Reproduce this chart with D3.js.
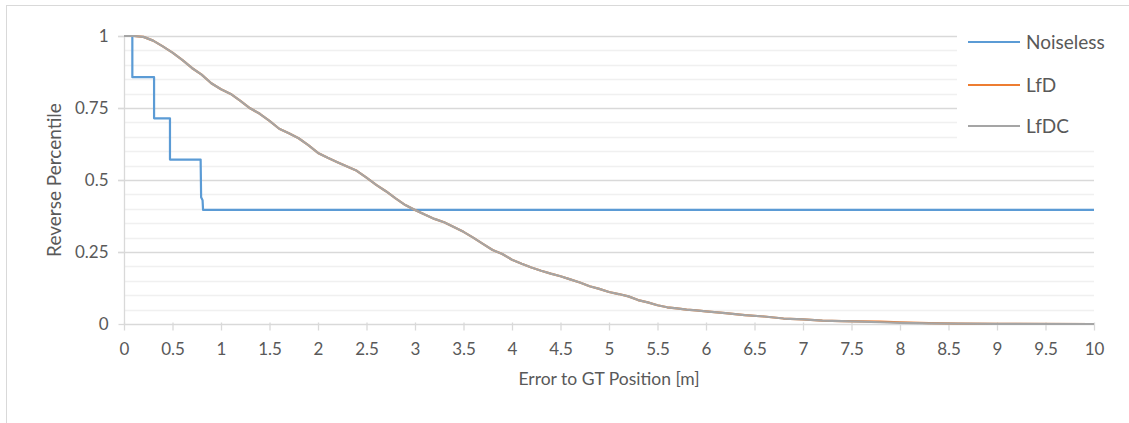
<!DOCTYPE html>
<html>
<head>
<meta charset="utf-8">
<script src="https://cdn.jsdelivr.net/npm/d3@7/dist/d3.min.js"></script>
<style>
  html, body { margin: 0; padding: 0; background: #fff; }
  svg { display: block; font-family: Lato, "Open Sans", sans-serif; }
</style>
</head>
<body>
<svg id="chart" width="1129" height="423"></svg>
<script>
// Series names and colours
const seriesNames = ["Noiseless", "LfD", "LfDC"];
const seriesColors = ["#5b9bd5", "#ed7d31", "#a5a5a5"];

// Noiseless: step curve (error in m, reverse percentile)
const noiselessX = [0, 0.086, 0.086, 0.31, 0.31, 0.474, 0.474, 0.79, 0.795, 0.81, 0.815, 10];
const noiselessY = [1, 1, 0.857, 0.857, 0.714, 0.714, 0.571, 0.571, 0.44, 0.43, 0.396, 0.396];

// LfD / LfDC: sampled along the error axis
const errorX = [0, 0.1, 0.2, 0.3, 0.4, 0.5, 0.6, 0.7, 0.8, 0.9, 1.0, 1.1, 1.2, 1.3, 1.4, 1.5, 1.6, 1.7, 1.8, 1.9,
  2.0, 2.1, 2.2, 2.3, 2.4, 2.5, 2.6, 2.7, 2.8, 2.9, 3.0, 3.1, 3.2, 3.3, 3.4, 3.5, 3.6, 3.7, 3.8, 3.9,
  4.0, 4.1, 4.2, 4.3, 4.4, 4.5, 4.6, 4.7, 4.8, 4.9, 5.0, 5.1, 5.2, 5.3, 5.4, 5.5, 5.6, 5.7, 5.8, 5.9,
  6.0, 6.2, 6.4, 6.6, 6.8, 7.0, 7.2, 7.4, 7.6, 7.8, 8.0, 8.3, 8.6, 9.0, 10];
const lfdcY = [1.0, 1.0, 0.997, 0.984, 0.964, 0.942, 0.917, 0.889, 0.866, 0.836, 0.815, 0.799, 0.775, 0.749, 0.730, 0.705, 0.678, 0.662, 0.645, 0.621,
  0.594, 0.577, 0.562, 0.547, 0.532, 0.508, 0.483, 0.461, 0.436, 0.413, 0.396, 0.380, 0.365, 0.353, 0.337, 0.320, 0.300, 0.278, 0.257, 0.243,
  0.223, 0.209, 0.196, 0.185, 0.175, 0.166, 0.155, 0.144, 0.131, 0.122, 0.111, 0.104, 0.096, 0.083, 0.075, 0.065, 0.058, 0.054, 0.050, 0.047,
  0.044, 0.038, 0.031, 0.026, 0.019, 0.016, 0.012, 0.010, 0.008, 0.006, 0.004, 0.002, 0.001, 0.0005, 0];
const lfdY = [1.0, 1.0, 0.997, 0.984, 0.964, 0.942, 0.917, 0.889, 0.866, 0.836, 0.815, 0.799, 0.775, 0.749, 0.730, 0.705, 0.678, 0.662, 0.645, 0.621,
  0.594, 0.577, 0.562, 0.547, 0.532, 0.508, 0.483, 0.461, 0.436, 0.413, 0.396, 0.380, 0.365, 0.353, 0.337, 0.320, 0.300, 0.278, 0.257, 0.243,
  0.223, 0.209, 0.196, 0.185, 0.175, 0.166, 0.155, 0.144, 0.131, 0.122, 0.111, 0.104, 0.096, 0.083, 0.075, 0.065, 0.058, 0.054, 0.050, 0.047,
  0.044, 0.038, 0.031, 0.026, 0.019, 0.016, 0.012, 0.010, 0.009, 0.008, 0.006, 0.003, 0.001, 0.0005, 0];

// Axis ticks
const xTicks = d3.range(0, 10.001, 0.5).map(v => +v.toFixed(1));
const yTicks = [0, 0.25, 0.5, 0.75, 1];
const yMinorTicks = d3.range(0, 1.0001, 0.05).map(v => +v.toFixed(2));

const axisTitleX = "Error to GT Position [m]";
const axisTitleY = "Reverse Percentile";

const svg = d3.select("#chart");
const W = 1129, H = 423;
const plot = { left: 124, right: 1094, top: 36, bottom: 324 };

const x = d3.scaleLinear().domain([0, 10]).range([plot.left, plot.right]);
const y = d3.scaleLinear().domain([0, 1]).range([plot.bottom, plot.top]);

const textColor = "#595959";

// Chart frame
svg.append("rect")
  .attr("x", 6.5).attr("y", 5.5).attr("width", W + 20).attr("height", H + 20)
  .attr("fill", "#fff").attr("stroke", "#d9d9d9").attr("stroke-width", 1);

// Minor horizontal gridlines
svg.append("g").selectAll("line").data(yMinorTicks.filter(v => !yTicks.some(t => Math.abs(t - v) < 1e-6)))
  .join("line")
  .attr("x1", plot.left).attr("x2", plot.right)
  .attr("y1", d => Math.round(y(d)) + 0.5).attr("y2", d => Math.round(y(d)) + 0.5)
  .attr("stroke", "#f0f0f0").attr("stroke-width", 1.3);

// Major horizontal gridlines
svg.append("g").selectAll("line").data(yTicks.filter(v => v > 0))
  .join("line")
  .attr("x1", plot.left - 6).attr("x2", plot.right)
  .attr("y1", d => Math.round(y(d)) + 0.5).attr("y2", d => Math.round(y(d)) + 0.5)
  .attr("stroke", "#d9d9d9").attr("stroke-width", 1.3);

// Y axis (left) with labels
const yAxis = d3.axisLeft(y).tickValues(yTicks).tickSize(6).tickPadding(10)
  .tickFormat(d => d3.format("")(d));
const gy = svg.append("g").attr("transform", `translate(${plot.left + 0.5},0)`).call(yAxis);
gy.select(".domain").attr("stroke", "#d9d9d9").attr("stroke-width", 1.3).attr("d", `M0,${plot.top}V${plot.bottom}`);
gy.selectAll(".tick line").attr("stroke", "#d9d9d9").attr("stroke-width", 1.3);
gy.selectAll(".tick text").attr("fill", textColor).style("font-size", "17px").style("font-family", "Lato");

// X axis (bottom) with labels
const xAxis = d3.axisBottom(x).tickValues(xTicks).tickSize(6).tickPadding(12)
  .tickFormat(d => d3.format("")(d));
const gx = svg.append("g").attr("transform", `translate(0,${plot.bottom + 0.5})`).call(xAxis);
gx.select(".domain").attr("stroke", "#d9d9d9").attr("stroke-width", 1.3).attr("d", `M${plot.left},0H${plot.right}`);
gx.selectAll(".tick line").attr("stroke", "#d9d9d9").attr("stroke-width", 1.3).attr("y1", -2);
gx.selectAll(".tick text").attr("fill", textColor).style("font-size", "17px").style("font-family", "Lato");

// Series lines
const line = d3.line().x(d => x(d[0])).y(d => y(d[1]));
const noiseless = noiselessX.map((v, i) => [v, noiselessY[i]]);
const lfd = errorX.map((v, i) => [v, lfdY[i]]);
const lfdc = errorX.map((v, i) => [v, lfdcY[i]]);
const series = [noiseless, lfd, lfdc];

svg.append("g").selectAll("path").data(series).join("path")
  .attr("d", line)
  .attr("fill", "none")
  .attr("stroke", (d, i) => seriesColors[i])
  .attr("stroke-width", 2.2)
  .attr("stroke-linejoin", "round");

// Legend
const legend = svg.append("g");
legend.append("rect").attr("x", 957).attr("y", 18).attr("width", 172).attr("height", 126).attr("fill", "#fff");
const legendY = [42, 85, 126];
seriesNames.forEach((name, i) => {
  legend.append("line")
    .attr("x1", 968).attr("x2", 1020)
    .attr("y1", legendY[i]).attr("y2", legendY[i])
    .attr("stroke", seriesColors[i]).attr("stroke-width", 2.2);
  legend.append("text")
    .attr("x", 1026).attr("y", legendY[i])
    .attr("dy", "0.35em")
    .attr("fill", textColor)
    .style("font-size", "19px")
    .text(name);
});

// Axis titles
svg.append("text")
  .attr("x", (plot.left + plot.right) / 2).attr("y", 385)
  .attr("text-anchor", "middle").attr("fill", textColor)
  .style("font-size", "17.5px")
  .text(axisTitleX);

svg.append("text")
  .attr("transform", `translate(61,${(plot.top + plot.bottom) / 2}) rotate(-90)`)
  .attr("text-anchor", "middle").attr("fill", textColor)
  .style("font-size", "19px")
  .text(axisTitleY);
</script>
</body>
</html>
